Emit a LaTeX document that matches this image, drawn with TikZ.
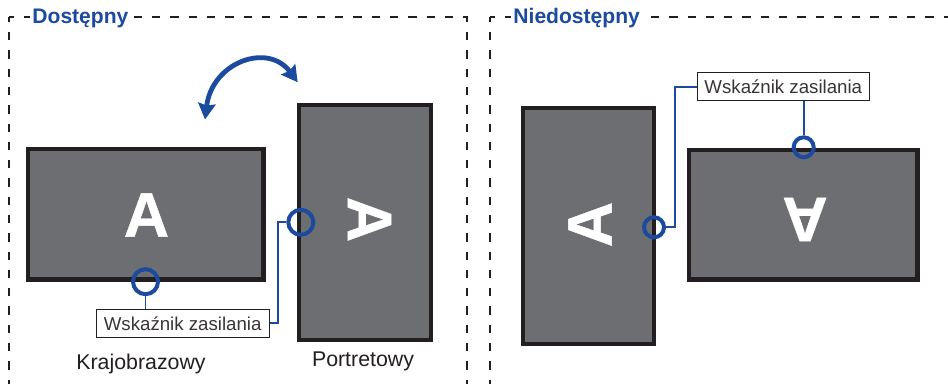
\documentclass[tikz,border=0pt]{standalone}
\usepackage{fontspec}
\setmainfont{Liberation Sans}
\newfontfamily\heavyfont[FakeBold=0.7]{Liberation Sans Bold}
\usetikzlibrary{arrows.meta,calc}
\definecolor{bluec}{HTML}{1B4A9E}
\definecolor{screenc}{HTML}{6D6E71}
\definecolor{framec}{HTML}{231F20}
\tikzset{x=0.75pt,y=-0.75pt,
 panel/.style={draw=framec,line width=3.6pt,fill=screenc},
 frameline/.style={draw=framec,line width=1.5pt,dash pattern=on 6.2pt off 7.52pt,dash phase=2.4pt},
 head/.style={text=bluec,font=\bfseries\fontsize{15.8}{18}\selectfont,fill=white,inner sep=2pt,anchor=west},
 bigA/.style={text=white,font=\heavyfont\fontsize{47}{47}\selectfont,inner sep=0pt},
 ring/.style={draw=bluec,line width=3pt,circle,inner sep=0pt,minimum size=#1},
 lead/.style={draw=bluec,line width=1.4pt},
 tagbox/.style={draw=framec,line width=0.7pt,fill=white,inner sep=0pt,minimum width=129.5pt,minimum height=21pt,font=\fontsize{14}{16}\selectfont,text=framec!90},
 capt/.style={text=framec,font=\fontsize{16}{19}\selectfont,inner sep=0pt},
}
\begin{document}
\begin{tikzpicture}
\useasboundingbox (0,0) rectangle (948,384);
\fill[white] (0,0) rectangle (948,384);
% dashed frames
\draw[frameline] (9,17) -- (9,395);
\draw[frameline] (9,17) -- (467.5,17);
\draw[frameline] (467.3,17) -- (467.3,395);
\draw[frameline] (489.5,17) -- (489.5,395);
\draw[frameline] (489.5,17) -- (960,17);
\node[head] (hA) at (29.5,18.5) {Dostępny};
\node[head] (hB) at (510.5,18.5) {Niedostępny};
% rotation arrow
\coordinate (arcA) at (205,119.5);
\coordinate (arcB) at (297.7,82.3);
\draw[bluec,line width=3.6pt,{Stealth[length=12pt,width=13pt,inset=1.5pt]}-{Stealth[length=12pt,width=13pt,inset=1.5pt]}] (arcA) .. controls (212,62) and (268,42) .. (arcB);
% monitors
\path[panel] (28,149) rectangle (263.5,279.5);
\path[panel] (299,105) rectangle (431,340);
\path[panel] (523,108) rectangle (654,344);
\path[panel] (689,150) rectangle (917.5,279.5);
\node[bigA] (a1) at (146.5,215) {A};
\node[bigA,rotate=-90] (a2) at (369.5,219.5) {A};
\node[bigA,rotate=90] (a3) at (590,224.5) {A};
\node[bigA,rotate=180] (a4) at (805,219.5) {A};
% rings
\node[ring=18.75pt] (r1) at (145.5,281.7) {};
\node[ring=18.75pt] (r2) at (300.8,222.3) {};
\node[ring=15pt] (r3) at (654,227.3) {};
\node[ring=15pt] (r4) at (803.7,147.3) {};
% labels
\node[tagbox] (t1) at (182.7,323.3) {Wskaźnik zasilania};
\node[tagbox] (t2) at (783.3,86.7) {Wskaźnik zasilania};
\draw[lead] (r1) -- (t1.north -| r1);
\draw[lead] (t1.east) -- (278,323.3) -- (278,222.3) -- (r2);
\draw[lead] (t2.west) -- (675,86.7) -- (675,227.3) -- (r3);
\draw[lead] (t2.south -| r4) -- (r4);
\node[capt] (c1) at (141,364) {Krajobrazowy};
\node[capt] (c2) at (363,361) {Portretowy};
\end{tikzpicture}
\end{document}
